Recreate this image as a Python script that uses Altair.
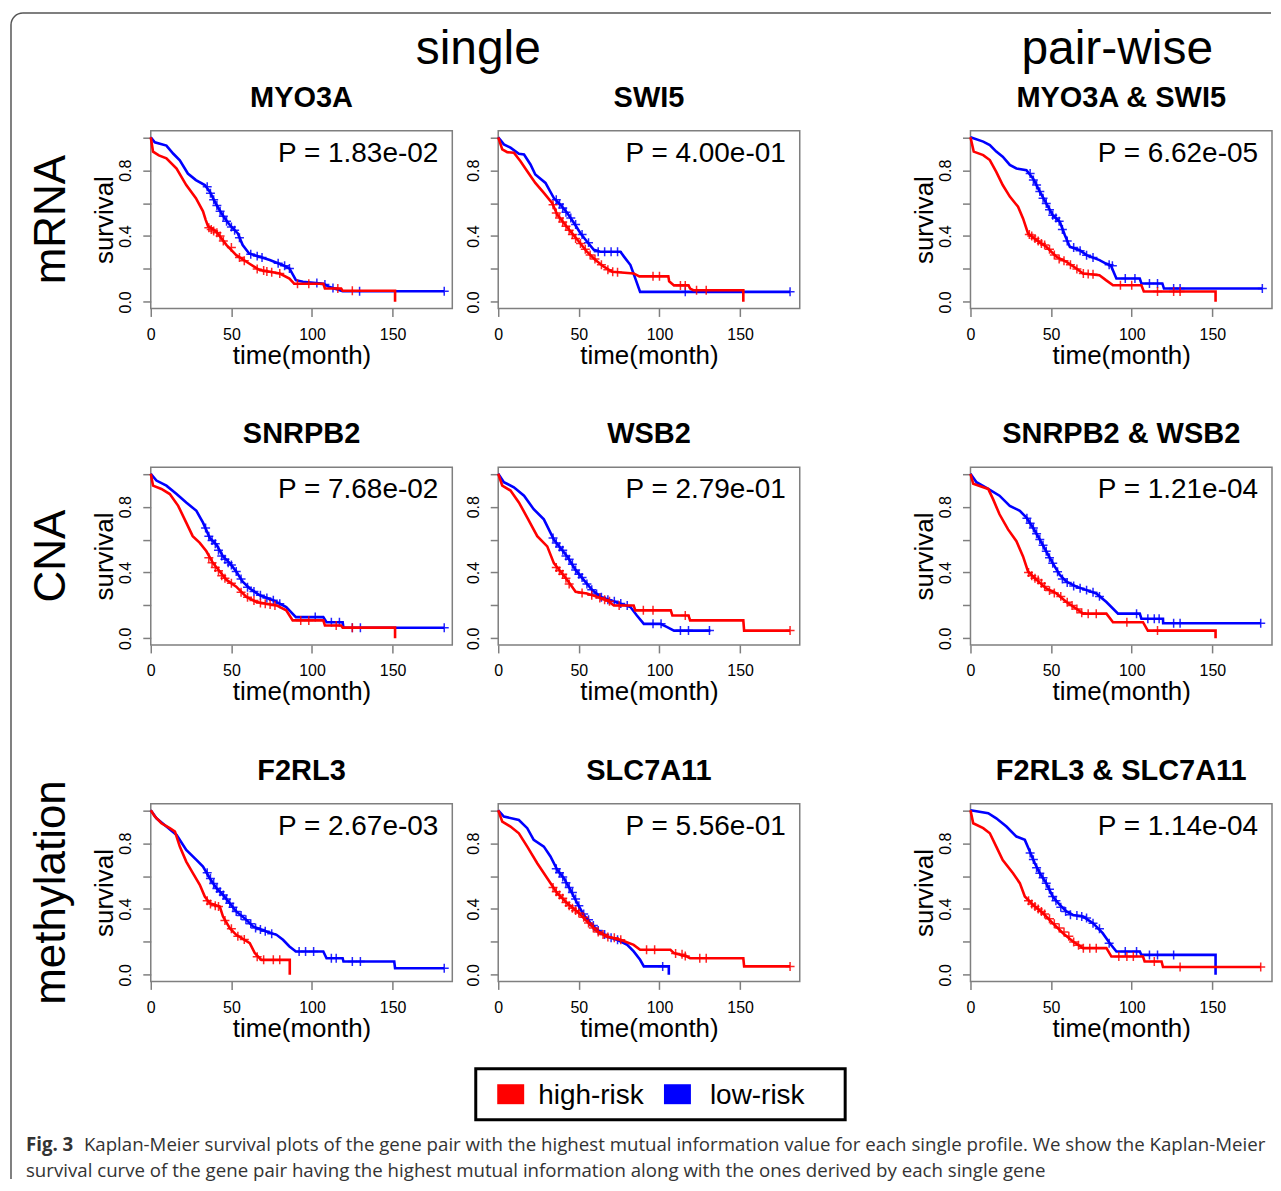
import altair as alt
import pandas as pd

# ---------------- text content ----------------
titles = ["MYO3A", "SWI5", "MYO3A & SWI5",
          "SNRPB2", "WSB2", "SNRPB2 & WSB2",
          "F2RL3", "SLC7A11", "F2RL3 & SLC7A11"]
pvalues = ["P = 1.83e-02", "P = 4.00e-01", "P = 6.62e-05",
           "P = 7.68e-02", "P = 2.79e-01", "P = 1.21e-04",
           "P = 2.67e-03", "P = 5.56e-01", "P = 1.14e-04"]
row_labels = ["mRNA", "CNA", "methylation"]
col_headers = ["single", "pair-wise"]
series = ["high-risk", "low-risk"]
series_colors = ["#ff0000", "#0000ff"]
x_ticks = [0, 50, 100, 150]
y_ticks = [0, 0.2, 0.4, 0.6, 0.8, 1.0]
caption_bold = "Fig. 3"
caption_line1 = ("Kaplan-Meier survival plots of the gene pair with the highest mutual information "
                 "value for each single profile. We show the Kaplan-Meier")
caption_line2 = ("survival curve of the gene pair having the highest mutual information along with "
                 "the ones derived by each single gene")

# ---------------- curves (time in months, survival) ----------------
# Panel 1: MYO3A
p1_high_t = [0, 1.4, 5, 9.7, 16, 22, 28, 32.4, 34, 35.5, 40.7, 47, 53, 61, 67.5, 80, 86, 89, 107, 108, 118, 119, 151.5, 151.5]
p1_high_s = [1.0, 0.913, 0.89, 0.872, 0.81, 0.71, 0.63, 0.55, 0.50, 0.46, 0.426, 0.345, 0.284, 0.233, 0.193, 0.172, 0.142, 0.11, 0.11, 0.081, 0.081, 0.068, 0.068, 0.0]
p1_low_t = [0, 2.5, 9.7, 14, 18, 23, 28, 33.5, 36.6, 40.7, 45, 49, 54, 57, 61, 67.5, 73.8, 82, 86, 90, 94.4, 107, 111, 119, 182]
p1_low_s = [1.0, 0.97, 0.95, 0.90, 0.86, 0.78, 0.74, 0.71, 0.67, 0.59, 0.52, 0.467, 0.416, 0.345, 0.294, 0.274, 0.254, 0.223, 0.203, 0.132, 0.122, 0.11, 0.09, 0.065, 0.065]
p1_high_ct = [36, 37.5, 39, 41, 43, 45, 50, 55, 58, 66, 70, 72, 75, 80, 91, 98, 116, 125]
p1_high_cs = [0.45, 0.44, 0.43, 0.42, 0.40, 0.37, 0.33, 0.27, 0.25, 0.20, 0.19, 0.185, 0.18, 0.172, 0.11, 0.11, 0.081, 0.068]
p1_low_ct = [35, 37, 39, 41, 43, 45, 47, 50, 52, 55, 62, 66, 69, 79, 83, 86, 103, 108, 113, 129.5, 182]
p1_low_cs = [0.70, 0.66, 0.62, 0.585, 0.55, 0.52, 0.49, 0.455, 0.435, 0.39, 0.29, 0.278, 0.27, 0.234, 0.22, 0.203, 0.115, 0.105, 0.085, 0.065, 0.065]

# Panel 2: SWI5
p2_high_t = [0, 2.5, 5.6, 9.7, 13.8, 18, 23, 28.3, 33.5, 36.6, 40.7, 44.8, 50, 55, 60.3, 65.5, 70.7, 84, 87.5, 105.5, 106, 109, 118, 119, 121, 152, 152]
p2_high_s = [1.0, 0.927, 0.91, 0.906, 0.855, 0.794, 0.723, 0.662, 0.60, 0.53, 0.479, 0.428, 0.367, 0.305, 0.255, 0.214, 0.183, 0.173, 0.155, 0.155, 0.125, 0.10, 0.10, 0.081, 0.071, 0.071, 0.0]
p2_low_t = [0, 3.5, 7.6, 12.8, 16, 20, 23, 29.3, 34.5, 38.6, 42.8, 47, 51, 55, 59.3, 63.4, 75.8, 78, 82, 85, 88, 181]
p2_low_s = [1.0, 0.957, 0.937, 0.90, 0.896, 0.835, 0.774, 0.723, 0.631, 0.59, 0.54, 0.479, 0.417, 0.367, 0.316, 0.305, 0.305, 0.275, 0.224, 0.143, 0.061, 0.061]
p2_high_ct = [34, 36, 38, 40, 42, 44, 46, 48, 51, 54, 57, 60, 64, 68, 71, 74, 96, 100, 113, 116, 123, 129]
p2_high_cs = [0.59, 0.54, 0.51, 0.485, 0.46, 0.435, 0.41, 0.385, 0.355, 0.32, 0.285, 0.26, 0.225, 0.195, 0.183, 0.18, 0.155, 0.155, 0.10, 0.10, 0.071, 0.071]
p2_low_ct = [36, 38, 40, 42, 45, 48, 52, 56, 62, 66, 70, 74, 116, 181]
p2_low_cs = [0.62, 0.595, 0.57, 0.545, 0.51, 0.47, 0.41, 0.36, 0.305, 0.305, 0.305, 0.305, 0.061, 0.061]

# Panel 3: MYO3A & SWI5
p3_high_t = [0, 2, 7.9, 12, 16, 20, 24.4, 29.5, 32.6, 35.7, 41, 47, 53.3, 59.5, 65.7, 69.8, 80, 84, 88.4, 106, 107.5, 152, 152]
p3_high_s = [1.0, 0.913, 0.892, 0.862, 0.79, 0.71, 0.64, 0.578, 0.507, 0.416, 0.375, 0.335, 0.274, 0.243, 0.203, 0.172, 0.162, 0.132, 0.101, 0.101, 0.063, 0.063, 0.0]
p3_low_t = [0, 7.9, 12, 16, 20, 24.4, 28.5, 34.7, 38.8, 43, 47, 51, 55.4, 58.5, 61.6, 67.8, 72, 80, 84, 87, 90.5, 105, 106, 119, 120, 181]
p3_low_s = [1.0, 0.974, 0.953, 0.913, 0.882, 0.832, 0.811, 0.80, 0.75, 0.67, 0.598, 0.527, 0.487, 0.406, 0.335, 0.314, 0.284, 0.254, 0.233, 0.223, 0.142, 0.142, 0.112, 0.112, 0.081, 0.081]
p3_high_ct = [36.5, 38, 40, 42, 44, 46, 49, 52, 55, 58, 62, 66, 70, 73, 76, 93, 100, 116, 126, 130]
p3_high_cs = [0.41, 0.40, 0.385, 0.37, 0.355, 0.345, 0.32, 0.285, 0.26, 0.25, 0.225, 0.2, 0.172, 0.17, 0.168, 0.101, 0.101, 0.063, 0.063, 0.063]
p3_low_ct = [37, 39, 41, 43, 45, 47, 49, 51, 53, 55, 57, 60, 64, 68, 72, 76, 86, 88, 96, 102, 111, 116, 126, 130, 181]
p3_low_cs = [0.78, 0.74, 0.71, 0.67, 0.63, 0.598, 0.56, 0.527, 0.51, 0.49, 0.44, 0.37, 0.33, 0.31, 0.284, 0.27, 0.226, 0.22, 0.142, 0.142, 0.112, 0.112, 0.081, 0.081, 0.081]

# Panel 4: SNRPB2
p4_high_t = [0, 1.4, 6.6, 11.8, 17, 22, 26, 30.4, 34.5, 38.6, 42.8, 47, 53, 59.3, 65.5, 78, 84, 88, 107, 108, 118, 119, 151.5, 151.5]
p4_high_s = [1.0, 0.928, 0.908, 0.877, 0.805, 0.703, 0.621, 0.58, 0.529, 0.457, 0.406, 0.355, 0.314, 0.252, 0.221, 0.20, 0.17, 0.109, 0.109, 0.078, 0.078, 0.065, 0.065, 0.0]
p4_low_t = [0, 3.5, 9.7, 16, 22, 28.3, 32.4, 36.6, 40.7, 44.8, 49, 53, 57, 61.4, 67.6, 75.8, 84, 90, 107, 109, 119, 119.5, 182]
p4_low_s = [1.0, 0.959, 0.928, 0.877, 0.826, 0.775, 0.703, 0.61, 0.57, 0.498, 0.457, 0.406, 0.344, 0.303, 0.262, 0.232, 0.19, 0.129, 0.129, 0.098, 0.098, 0.064, 0.064]
p4_high_ct = [36, 38, 40, 42, 44, 46, 50, 56, 60, 64, 68, 71, 74, 77, 93, 98, 115, 125]
p4_high_cs = [0.49, 0.46, 0.43, 0.41, 0.38, 0.365, 0.335, 0.28, 0.25, 0.23, 0.215, 0.21, 0.205, 0.2, 0.109, 0.109, 0.078, 0.065]
p4_low_ct = [34, 36, 38, 40, 42, 44, 46, 48, 50, 53, 56, 60, 64, 68, 72, 76, 80, 102, 112, 117, 125, 130, 182]
p4_low_cs = [0.67, 0.62, 0.595, 0.575, 0.535, 0.50, 0.48, 0.46, 0.445, 0.406, 0.36, 0.31, 0.285, 0.262, 0.245, 0.232, 0.21, 0.129, 0.098, 0.098, 0.064, 0.064, 0.064]

# Panel 5: WSB2
p5_high_t = [0, 2.5, 7.6, 12.8, 18, 24.2, 30.4, 34.5, 38.6, 42.8, 48, 55, 61.4, 67.6, 71.7, 84, 85, 107, 108, 118, 119, 152, 152.5, 181]
p5_high_s = [1.0, 0.928, 0.898, 0.826, 0.734, 0.621, 0.559, 0.457, 0.406, 0.355, 0.283, 0.272, 0.252, 0.232, 0.20, 0.20, 0.17, 0.17, 0.139, 0.139, 0.109, 0.109, 0.047, 0.047]
p5_low_t = [0, 3.5, 9.7, 16, 22, 28.3, 34.5, 38.6, 42.8, 48, 53, 58.3, 63.4, 69.6, 75.8, 82, 86, 90.3, 100.6, 104.8, 109, 131.6]
p5_low_s = [1.0, 0.949, 0.918, 0.867, 0.785, 0.723, 0.60, 0.549, 0.498, 0.416, 0.355, 0.293, 0.252, 0.232, 0.211, 0.19, 0.139, 0.088, 0.088, 0.068, 0.047, 0.047]
p5_high_ct = [36, 38, 40, 42, 44, 52, 58, 63, 66, 69, 75, 90, 96, 116, 181]
p5_high_cs = [0.43, 0.41, 0.39, 0.365, 0.33, 0.275, 0.262, 0.245, 0.235, 0.225, 0.20, 0.17, 0.17, 0.139, 0.047]
p5_low_ct = [34, 36, 38, 40, 42, 44, 46, 48, 50, 52, 55, 58, 61, 64, 68, 72, 76, 80, 96, 101, 113, 118, 131]
p5_low_cs = [0.61, 0.58, 0.555, 0.535, 0.50, 0.48, 0.45, 0.416, 0.39, 0.37, 0.33, 0.295, 0.27, 0.25, 0.235, 0.225, 0.212, 0.2, 0.088, 0.088, 0.047, 0.047, 0.047]

# Panel 6: SNRPB2 & WSB2
p6_high_t = [0, 1.7, 7.9, 11, 14, 18, 23.3, 28.5, 32.6, 35.7, 41, 47, 53.3, 59.5, 65.7, 69.8, 84.3, 88.4, 107, 110, 152, 152]
p6_high_s = [1.0, 0.939, 0.918, 0.908, 0.846, 0.754, 0.662, 0.59, 0.498, 0.406, 0.355, 0.303, 0.273, 0.221, 0.18, 0.15, 0.15, 0.098, 0.098, 0.047, 0.047, 0.0]
p6_low_t = [0, 3.7, 11, 18, 24.4, 30.6, 34.7, 38.8, 43, 47, 51, 55.4, 59.5, 65.7, 72, 78, 84.3, 91.5, 105, 106, 119.4, 119.5, 180]
p6_low_s = [1.0, 0.949, 0.908, 0.867, 0.805, 0.775, 0.734, 0.672, 0.60, 0.529, 0.457, 0.385, 0.344, 0.314, 0.293, 0.273, 0.221, 0.15, 0.15, 0.119, 0.119, 0.092, 0.092]
p6_high_ct = [36, 38, 40, 42, 44, 46, 49, 52, 56, 60, 63, 66, 69, 73, 78, 97, 116]
p6_high_cs = [0.40, 0.38, 0.365, 0.355, 0.335, 0.315, 0.29, 0.275, 0.255, 0.22, 0.20, 0.178, 0.155, 0.15, 0.15, 0.098, 0.047]
p6_low_ct = [35, 37, 39, 41, 43, 45, 47, 49, 51, 54, 57, 60, 64, 68, 72, 76, 80, 103, 110, 114, 117, 126, 130, 180]
p6_low_cs = [0.73, 0.70, 0.67, 0.635, 0.60, 0.565, 0.529, 0.49, 0.457, 0.405, 0.36, 0.34, 0.318, 0.305, 0.293, 0.28, 0.255, 0.15, 0.119, 0.119, 0.119, 0.092, 0.092, 0.092]

# Panel 7: F2RL3
p7_high_t = [0, 2.5, 6.6, 11.8, 15, 18, 22, 26.2, 30.4, 33.5, 36.6, 42.8, 44.8, 49, 53, 61.4, 64.5, 68.6, 86.2, 86.2]
p7_high_s = [1.0, 0.962, 0.921, 0.891, 0.87, 0.779, 0.688, 0.617, 0.547, 0.476, 0.435, 0.415, 0.354, 0.283, 0.243, 0.192, 0.132, 0.091, 0.091, 0.0]
p7_low_t = [0, 3.5, 9.7, 16, 22, 28.3, 32.4, 36.6, 40.7, 44.8, 49, 53, 59.3, 63.4, 71.7, 78, 82, 86, 90, 107, 109, 119, 119.5, 151, 151.5, 182]
p7_low_s = [1.0, 0.951, 0.901, 0.85, 0.759, 0.698, 0.658, 0.587, 0.526, 0.486, 0.435, 0.385, 0.334, 0.294, 0.263, 0.243, 0.213, 0.172, 0.142, 0.142, 0.101, 0.101, 0.081, 0.081, 0.04, 0.04]
p7_high_ct = [35, 37, 40, 42, 46, 50, 54, 58, 66, 70, 76, 80]
p7_high_cs = [0.45, 0.43, 0.42, 0.415, 0.33, 0.28, 0.235, 0.215, 0.11, 0.091, 0.091, 0.091]
p7_low_ct = [35, 37, 39, 41, 43, 45, 47, 49, 51, 53, 56, 59, 62, 65, 68, 71, 75, 92, 96, 101, 112, 115, 125, 130, 182]
p7_low_cs = [0.62, 0.585, 0.555, 0.525, 0.505, 0.485, 0.46, 0.435, 0.41, 0.385, 0.36, 0.335, 0.31, 0.285, 0.275, 0.265, 0.25, 0.142, 0.142, 0.142, 0.101, 0.101, 0.081, 0.081, 0.04]

# Panel 8: SLC7A11
p8_high_t = [0, 2.5, 7.6, 12.8, 18, 24.2, 30.4, 36.6, 42.8, 49, 55.2, 61.4, 67.6, 75.8, 84, 88, 106.8, 109, 117, 119, 152, 152.5, 181]
p8_high_s = [1.0, 0.931, 0.901, 0.86, 0.779, 0.678, 0.587, 0.496, 0.435, 0.385, 0.324, 0.263, 0.233, 0.213, 0.182, 0.152, 0.152, 0.132, 0.111, 0.101, 0.101, 0.051, 0.051]
p8_low_t = [0, 3.5, 12.8, 18, 22, 28.3, 32.4, 36.6, 40.7, 44.8, 49, 53, 57.2, 61.4, 67.6, 73.8, 80, 84, 88, 90.3, 105.8, 105.8]
p8_low_s = [1.0, 0.962, 0.941, 0.891, 0.82, 0.779, 0.719, 0.638, 0.587, 0.516, 0.435, 0.364, 0.314, 0.273, 0.233, 0.213, 0.182, 0.142, 0.091, 0.051, 0.051, 0.0]
p8_high_ct = [34, 36, 38, 40, 42, 44, 46, 48, 50, 53, 56, 59, 62, 65, 68, 72, 76, 92, 97, 110, 114, 116, 125, 129, 181]
p8_high_cs = [0.53, 0.505, 0.485, 0.465, 0.44, 0.42, 0.405, 0.39, 0.375, 0.35, 0.315, 0.285, 0.26, 0.245, 0.23, 0.225, 0.213, 0.152, 0.152, 0.13, 0.125, 0.115, 0.101, 0.101, 0.051]
p8_low_ct = [36, 38, 40, 42, 44, 46, 48, 50, 53, 56, 59, 62, 66, 70, 74, 102]
p8_low_cs = [0.645, 0.62, 0.595, 0.56, 0.53, 0.50, 0.46, 0.42, 0.37, 0.335, 0.30, 0.27, 0.245, 0.225, 0.213, 0.051]

# Panel 9: F2RL3 & SLC7A11
p9_high_t = [0, 1.7, 7.9, 12, 16, 20, 26.4, 30.6, 33.7, 38.8, 45, 51, 57.4, 63.6, 69.8, 84.3, 87.4, 107, 108, 118.5, 119.4, 180]
p9_high_s = [1.0, 0.921, 0.891, 0.86, 0.779, 0.698, 0.617, 0.557, 0.476, 0.425, 0.374, 0.314, 0.253, 0.202, 0.162, 0.162, 0.111, 0.111, 0.081, 0.081, 0.047, 0.047]
p9_low_t = [0, 11, 16, 22.3, 28.5, 33.7, 36.8, 39.9, 43, 47, 51, 55.4, 59.5, 63.6, 69.8, 76, 82, 86.4, 90.5, 105, 106, 152, 152]
p9_low_s = [1.0, 0.982, 0.951, 0.901, 0.84, 0.82, 0.749, 0.678, 0.617, 0.557, 0.476, 0.425, 0.385, 0.364, 0.354, 0.314, 0.253, 0.192, 0.142, 0.142, 0.121, 0.121, 0.0]
p9_high_ct = [36, 38, 40, 42, 44, 46, 49, 52, 55, 58, 61, 64, 67, 70, 74, 78, 92, 97, 101, 114, 130, 180]
p9_high_cs = [0.45, 0.43, 0.415, 0.40, 0.385, 0.37, 0.34, 0.31, 0.285, 0.26, 0.235, 0.20, 0.18, 0.162, 0.162, 0.162, 0.111, 0.111, 0.111, 0.081, 0.047, 0.047]
p9_low_ct = [37, 39, 41, 43, 45, 47, 49, 51, 53, 56, 59, 62, 66, 69, 72, 76, 80, 86, 96, 103, 111, 116, 126]
p9_low_cs = [0.74, 0.70, 0.65, 0.617, 0.59, 0.557, 0.52, 0.476, 0.45, 0.41, 0.385, 0.365, 0.36, 0.355, 0.345, 0.314, 0.28, 0.192, 0.142, 0.142, 0.121, 0.121, 0.121]

PANEL_DATA = [
    (p1_high_t, p1_high_s, p1_low_t, p1_low_s, p1_high_ct, p1_high_cs, p1_low_ct, p1_low_cs),
    (p2_high_t, p2_high_s, p2_low_t, p2_low_s, p2_high_ct, p2_high_cs, p2_low_ct, p2_low_cs),
    (p3_high_t, p3_high_s, p3_low_t, p3_low_s, p3_high_ct, p3_high_cs, p3_low_ct, p3_low_cs),
    (p4_high_t, p4_high_s, p4_low_t, p4_low_s, p4_high_ct, p4_high_cs, p4_low_ct, p4_low_cs),
    (p5_high_t, p5_high_s, p5_low_t, p5_low_s, p5_high_ct, p5_high_cs, p5_low_ct, p5_low_cs),
    (p6_high_t, p6_high_s, p6_low_t, p6_low_s, p6_high_ct, p6_high_cs, p6_low_ct, p6_low_cs),
    (p7_high_t, p7_high_s, p7_low_t, p7_low_s, p7_high_ct, p7_high_cs, p7_low_ct, p7_low_cs),
    (p8_high_t, p8_high_s, p8_low_t, p8_low_s, p8_high_ct, p8_high_cs, p8_low_ct, p8_low_cs),
    (p9_high_t, p9_high_s, p9_low_t, p9_low_s, p9_high_ct, p9_high_cs, p9_low_ct, p9_low_cs),
]

FONT = "Liberation Sans"
CAP_FONT = "Open Sans"
PW, PH = 302, 178
color_scale = alt.Scale(domain=series, range=series_colors)
CROSS = "M-1,0L1,0M0,-1L0,1"
BORDER = "#555555"


def one():
    return pd.DataFrame({"a": [0]})


def curve_df(t, s, name):
    return pd.DataFrame({"t": t, "s": s, "group": name, "i": list(range(len(t)))})


def txt(label, x, y, size, weight="normal", angle=0, align="center",
        font=FONT, color="black"):
    return alt.Chart(pd.DataFrame({"label": [label]})).mark_text(
        fontSize=size, fontWeight=weight, angle=angle, align=align,
        baseline="alphabetic", font=font, color=color
    ).encode(x=alt.value(x), y=alt.value(y), text="label:N")


def panel(k, show_ytitle):
    ht, hs, lt, ls, hct, hcs, lct, lcs = PANEL_DATA[k]
    xe = alt.X("t:Q", scale=alt.Scale(domain=[0, 187], nice=False, zero=False),
               axis=alt.Axis(values=x_ticks, title="time(month)", domain=False, grid=False,
                             tickSize=8, tickColor="#7f7f7f", tickWidth=1.5,
                             labelFontSize=16, labelFont=FONT, labelColor="black",
                             labelBaseline="alphabetic", labelPadding=23, labelFlush=False,
                             labelAlign="center",
                             titleFontSize=26, titleFont=FONT, titleFontWeight="normal",
                             titleColor="black", titleBaseline="alphabetic",
                             titleX=PW / 2, titleY=55, titleAlign="center"))
    ye = alt.Y("s:Q", scale=alt.Scale(domain=[-0.04, 1.04], nice=False, zero=False),
               axis=alt.Axis(values=y_ticks, title="survival" if show_ytitle else "",
                             domain=False, grid=False,
                             tickSize=8, tickColor="#7f7f7f", tickWidth=1.5,
                             labelExpr="(datum.value < 0.01 || abs(datum.value - 0.4) < 0.01 || abs(datum.value - 0.8) < 0.01) ? format(datum.value, '.1f') : ''",
                             labelFontSize=16, labelFont=FONT, labelColor="black",
                             labelAngle=270, labelAlign="center", labelBaseline="alphabetic",
                             labelPadding=12, labelFlush=False, labelOverlap=False,
                             titleFontSize=26, titleFont=FONT, titleFontWeight="normal",
                             titleColor="black", titleAngle=270, titleBaseline="alphabetic",
                             titleX=-38, titleY=PH / 2, titleAlign="center"))
    col = alt.Color("group:N", scale=color_scale, legend=None)

    low_line = alt.Chart(curve_df(lt, ls, series[1])).mark_line(strokeWidth=2.6).encode(
        x=xe, y=ye, color=col, order="i:Q")
    high_line = alt.Chart(curve_df(ht, hs, series[0])).mark_line(strokeWidth=2.6).encode(
        x=xe, y=ye, color=col, order="i:Q")
    low_cens = alt.Chart(curve_df(lct, lcs, series[1])).mark_point(
        shape=CROSS, filled=False, size=81, strokeWidth=1.5, opacity=0.85).encode(
        x=xe, y=ye, color=col)
    high_cens = alt.Chart(curve_df(hct, hcs, series[0])).mark_point(
        shape=CROSS, filled=False, size=81, strokeWidth=1.5, opacity=0.85).encode(
        x=xe, y=ye, color=col)
    title = txt(titles[k], PW / 2, -24, 29, weight="bold")
    ptxt = txt(pvalues[k], 288, 31, 28, align="right")
    return alt.layer(low_line, low_cens, high_line, high_cens, title, ptxt).properties(
        width=PW, height=PH)


def blank_view():
    return alt.ViewBackground(stroke="transparent")


def label_cell(r):
    layers = []
    if r == 0:
        anchor = alt.Chart(one()).mark_rect(opacity=0).encode(
            x=alt.value(0), x2=alt.value(1), y=alt.value(-121), y2=alt.value(-120))
        top_line = alt.Chart(one()).mark_rule(color=BORDER, strokeWidth=1.5, strokeCap="butt").encode(
            x=alt.value(14), x2=alt.value(1264), y=alt.value(-118))
        left_line = alt.Chart(one()).mark_rule(color=BORDER, strokeWidth=1.5, strokeCap="butt").encode(
            x=alt.value(2), y=alt.value(-106), y2=alt.value(1050))
        corner = alt.Chart(one()).mark_arc(
            radius=12.75, radius2=11.25, theta=4.71239, theta2=6.28319, color=BORDER).encode(
            x=alt.value(14), y=alt.value(-106))
        layers += [anchor, top_line, left_line, corner,
                   txt(col_headers[0], 470, -67, 48),
                   txt(col_headers[1], 1110, -67, 48)]
    layers.append(txt(row_labels[r], 56, 89, 44, angle=270))
    if r == 2:
        legend_box = alt.Chart(one()).mark_rect(
            fill="white", stroke="black", strokeWidth=3).encode(
            x=alt.value(467.5), x2=alt.value(837.5), y=alt.value(265.5), y2=alt.value(316.5))
        layers.append(legend_box)
        sym_x = [489, 656]
        lab_x = [530, 702]
        for i in range(2):
            layers.append(alt.Chart(one()).mark_rect(color=series_colors[i]).encode(
                x=alt.value(sym_x[i]), x2=alt.value(sym_x[i] + 27),
                y=alt.value(281), y2=alt.value(301)))
            layers.append(txt(series[i], lab_x[i], 301, 28, align="left"))
        layers += [txt(caption_bold, 17, 348, 18.7, weight="bold", align="left",
                       font=CAP_FONT, color="#333333"),
                   txt(caption_line1, 75, 348, 18.7, align="left",
                       font=CAP_FONT, color="#333333"),
                   txt(caption_line2, 17, 374, 18.7, align="left",
                       font=CAP_FONT, color="#333333")]
    return alt.layer(*layers).properties(width=96, height=PH, view=blank_view())


def spacer():
    return alt.Chart(one()).mark_point(opacity=0).encode(
        x=alt.value(0), y=alt.value(0)).properties(width=79, height=PH, view=blank_view())


cells = []
for r in range(3):
    cells.append(label_cell(r))
    cells.append(panel(3 * r + 0, True))
    cells.append(panel(3 * r + 1, False))
    cells.append(spacer())
    cells.append(panel(3 * r + 2, True))

chart = alt.concat(
    *cells, columns=5, spacing=alt.RowColnumber(row=159, column=46),
    bounds="flush", align="each"
).resolve_scale(color="shared").properties(padding=0).configure(
    font=FONT
).configure_view(stroke="#7f7f7f", strokeWidth=1.5)

chart.save("out.html", embed_options={"renderer": "svg", "actions": False})
